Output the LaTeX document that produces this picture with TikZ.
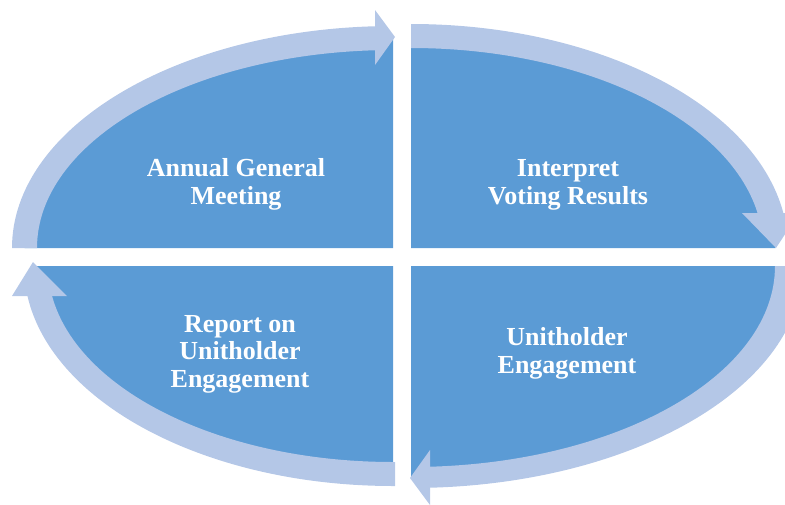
\documentclass[tikz,border=0pt]{standalone}
\usepackage{fontspec}
\setmainfont{Liberation Serif}
\definecolor{quad}{HTML}{5B9BD5}
\definecolor{ring}{HTML}{B4C7E7}
\tikzset{
  quadfill/.style={fill=quad},
  ringfill/.style={fill=ring},
  lbl/.style={text=white, font=\fontsize{26}{27.5}\selectfont\bfseries, align=center, anchor=base, inner sep=0pt},
}
\begin{document}
\begin{tikzpicture}[x=1pt,y=1pt]
\useasboundingbox (0,0) rectangle (785,-504);
\clip (0,0) rectangle (785,-504);
% top left quadrant
\begin{scope}[shift={(393,-248)}]
  \fill[quadfill] (0,0) -- (180:368.5pt and 210pt) arc[start angle=180,end angle=90,x radius=368.5pt,y radius=210pt] -- cycle;
  \fill[ringfill] (180:381pt and 222pt) arc[start angle=180,end angle=92.71,x radius=381pt,y radius=222pt]
    -- (92.90:356pt and 198pt) arc[start angle=92.90,end angle=180,x radius=356pt,y radius=198pt] -- cycle;
  \fill[ringfill] (-18,238) -- (2,211) -- (-18,183) -- cycle;
\end{scope}
% top right quadrant
\begin{scope}[shift={(411,-248)}]
  \fill[quadfill] (0,0) -- (90:364.5pt and 212pt) arc[start angle=90,end angle=0,x radius=364.5pt,y radius=212pt] -- cycle;
  \fill[ringfill] (90:377pt and 224pt) arc[start angle=90,end angle=8.99,x radius=377pt,y radius=224pt]
    -- (10.08:352pt and 200pt) arc[start angle=10.08,end angle=90,x radius=352pt,y radius=200pt] -- cycle;
  \fill[ringfill] (331,35) -- (365,0) -- (388,35) -- cycle;
\end{scope}
% bottom right quadrant
\begin{scope}[shift={(411,-266)}]
  \fill[quadfill] (0,0) -- (0:378pt and 211.5pt) arc[start angle=0,end angle=-90,x radius=378pt,y radius=211.5pt] -- cycle;
  \fill[ringfill] (0:392pt and 222pt) arc[start angle=0,end angle=-87.22,x radius=392pt,y radius=222pt]
    -- (-87.01:364pt and 201pt) arc[start angle=-87.01,end angle=0,x radius=364pt,y radius=201pt] -- cycle;
  \fill[ringfill] (19,-184) -- (-1,-212) -- (19,-239) -- cycle;
\end{scope}
% bottom left quadrant
\begin{scope}[shift={(393,-266)}]
  \fill[quadfill] (0,0) -- (270:357pt and 208pt) arc[start angle=270,end angle=180,x radius=357pt,y radius=208pt] -- cycle;
  \fill[ringfill] (2,-220) -- (270:369pt and 220pt) arc[start angle=270,end angle=187.84,x radius=369pt,y radius=220pt]
    -- (188.80:345pt and 196pt) arc[start angle=188.80,end angle=270,x radius=345pt,y radius=196pt] -- (2,-196) -- cycle;
  \fill[ringfill] (-381,-30) -- (-360,4) -- (-326,-30) -- cycle;
\end{scope}
% labels (base anchor = baseline of the last line)
\node[lbl] (agm) at (236,-204) {Annual General\\Meeting};
\node[lbl] (ivr) at (568,-204) {Interpret\\Voting Results};
\node[lbl] (rue) at (240,-387) {Report on\\Unitholder\\Engagement};
\node[lbl] (ue) at (567,-373) {Unitholder\\Engagement};
\end{tikzpicture}
\end{document}
